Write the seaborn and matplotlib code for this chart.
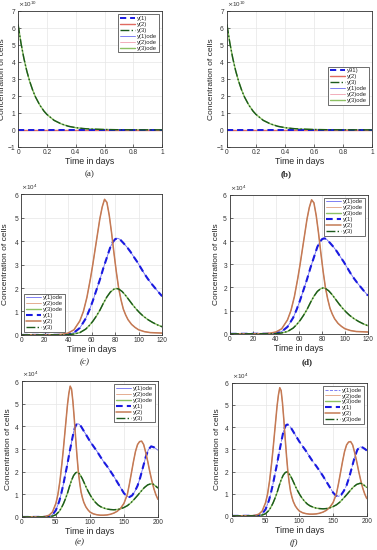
import matplotlib
matplotlib.use("Agg")
import matplotlib.pyplot as plt
from matplotlib.ticker import ScalarFormatter
import seaborn as sns
import pandas as pd

# ---- data ----
# panels (a)/(b): short run, values in units of 1e10
t_short = [0, 0.02, 0.04, 0.06, 0.08, 0.1, 0.12, 0.15, 0.18, 0.2, 0.25, 0.3,
           0.35, 0.4, 0.45, 0.5, 0.6, 0.7, 0.8, 0.9, 1.0]
y3_short = [6.2, 5.11, 4.22, 3.48, 2.87, 2.37, 1.95, 1.47, 1.1, 0.91, 0.56, 0.35,
            0.21, 0.13, 0.08, 0.05, 0.02, 0.008, 0.003, 0.001, 0.0]
y1_short = [0.0] * len(t_short)
y2_short = [0.0] * len(t_short)

# panels (c)/(d): 0-120 days, units of 1e4
t_mid_y1 = [0, 35, 40, 45, 50, 55, 58, 61, 64, 67, 70, 73, 76, 78, 80, 82, 84, 87,
            90, 93, 96, 99, 102, 105, 108, 111, 114, 117, 120]
y1_mid = [0, 0.005, 0.02, 0.1, 0.3, 0.7, 1.05, 1.45, 1.9, 2.35, 2.85, 3.3, 3.75,
          3.95, 4.08, 4.12, 4.08, 3.92, 3.75, 3.55, 3.32, 3.1, 2.85, 2.6, 2.38,
          2.18, 2.0, 1.82, 1.65]
t_mid_y2 = [0, 20, 30, 35, 40, 45, 50, 53, 56, 59, 61, 63, 65, 67, 69, 71, 73, 75,
            77, 79, 81, 83, 85, 87, 89, 91, 94, 97, 100, 105, 110, 120]
y2_mid = [0, 0.002, 0.01, 0.03, 0.08, 0.22, 0.6, 1.0, 1.6, 2.4, 3.0, 3.65, 4.3,
          4.95, 5.45, 5.78, 5.65, 5.1, 4.35, 3.5, 2.7, 2.0, 1.5, 1.1, 0.85, 0.65,
          0.45, 0.32, 0.22, 0.14, 0.1, 0.08]
t_mid_y3 = [0, 35, 40, 45, 50, 55, 58, 61, 64, 67, 70, 73, 76, 79, 81, 83, 86, 89,
            92, 95, 98, 101, 104, 108, 112, 116, 120]
y3_mid = [0, 0.003, 0.01, 0.04, 0.1, 0.25, 0.4, 0.58, 0.8, 1.05, 1.35, 1.62, 1.83,
          1.95, 1.98, 1.96, 1.85, 1.68, 1.48, 1.28, 1.1, 0.94, 0.8, 0.65, 0.53,
          0.43, 0.35]

# panels (e)/(f): 0-200 days, units of 1e4
t_long_y1 = [0, 35, 40, 45, 50, 55, 58, 61, 64, 67, 70, 73, 76, 78, 80, 82, 84, 87,
             90, 95, 100, 105, 110, 115, 120, 125, 130, 135, 140, 145, 150, 154,
             158, 162, 166, 170, 174, 178, 182, 186, 190, 194, 197, 200]
y1_long = [0, 0.005, 0.02, 0.1, 0.3, 0.7, 1.05, 1.45, 1.9, 2.35, 2.85, 3.3, 3.75,
           3.95, 4.08, 4.12, 4.1, 4.0, 3.85, 3.6, 3.35, 3.13, 2.92, 2.68, 2.45,
           2.25, 2.03, 1.8, 1.55, 1.3, 1.05, 0.92, 0.88, 0.95, 1.13, 1.38, 1.75,
           2.2, 2.65, 2.98, 3.12, 3.08, 3.02, 2.95]
t_long_y2 = [0, 30, 35, 40, 45, 50, 53, 56, 59, 61, 63, 65, 67, 69, 71, 73, 75, 77,
             79, 81, 83, 85, 87, 89, 91, 94, 97, 100, 105, 110, 115, 120, 125,
             130, 135, 140, 145, 150, 155, 158, 161, 164, 167, 170, 173, 176, 179,
             182, 185, 188, 191, 194, 197, 200]
y2_long = [0, 0.01, 0.03, 0.08, 0.22, 0.6, 1.0, 1.6, 2.4, 3.0, 3.65, 4.3, 4.95,
           5.45, 5.78, 5.65, 5.1, 4.35, 3.5, 2.7, 2.0, 1.5, 1.1, 0.85, 0.65, 0.45,
           0.32, 0.22, 0.14, 0.1, 0.08, 0.08, 0.09, 0.12, 0.17, 0.25, 0.38, 0.6,
           1.0, 1.45, 1.95, 2.45, 2.9, 3.2, 3.33, 3.35, 3.2, 2.85, 2.45, 2.0, 1.6,
           1.25, 0.98, 0.78]
t_long_y3 = [0, 35, 40, 45, 50, 55, 58, 61, 64, 67, 70, 73, 76, 79, 81, 83, 86, 89,
             92, 95, 98, 101, 104, 108, 112, 116, 120, 125, 130, 135, 140, 145,
             150, 155, 160, 165, 170, 175, 180, 185, 190, 193, 196, 200]
y3_long = [0, 0.003, 0.01, 0.04, 0.1, 0.25, 0.4, 0.58, 0.8, 1.05, 1.35, 1.62, 1.83,
           1.95, 1.98, 1.96, 1.85, 1.68, 1.48, 1.28, 1.1, 0.94, 0.8, 0.65, 0.53,
           0.45, 0.4, 0.35, 0.33, 0.32, 0.33, 0.36, 0.42, 0.5, 0.62, 0.78, 0.95,
           1.13, 1.3, 1.42, 1.47, 1.45, 1.38, 1.28]

# ---- style ----
sns.set_style("whitegrid", {
    "axes.edgecolor": "#333333", "grid.color": "#e6e6e6",
    "xtick.direction": "in", "ytick.direction": "in",
    "xtick.bottom": True, "ytick.left": True,
})
plt.rcParams["font.family"] = ["Liberation Sans", "DejaVu Sans"]
plt.rcParams["axes.linewidth"] = 0.6
plt.rcParams["xtick.major.size"] = 2
plt.rcParams["ytick.major.size"] = 2
plt.rcParams["xtick.major.width"] = 0.5
plt.rcParams["ytick.major.width"] = 0.5

BLUE = "#1a1ae0"
BROWN = "#c47a55"
DGREEN = "#1c5a1c"
ODE_BLUE = "#6a6af0"
ODE_BROWN = "#e0a080"
ODE_GREEN = "#8cc063"
DASH = (0, (3.2, 2.0))

fig = plt.figure(figsize=(3.77, 5.5), dpi=100)

boxes = {
    "a": [0.048, 0.733, 0.382, 0.247],
    "b": [0.602, 0.733, 0.385, 0.247],
    "c": [0.056, 0.391, 0.374, 0.256],
    "d": [0.610, 0.393, 0.366, 0.253],
    "e": [0.058, 0.060, 0.361, 0.247],
    "f": [0.615, 0.062, 0.358, 0.242],
}
ylab_x = {"a": -0.085, "b": -0.083, "c": -0.085, "d": -0.072, "e": -0.074, "f": -0.08}
captions = {"a": (90, 174, "(a)", "normal", "normal"),
            "b": (286, 174, "(b)", "bold", "normal"),
            "c": (85, 362, "(c)", "normal", "italic"),
            "d": (307, 362, "(d)", "bold", "normal"),
            "e": (80, 542, "(e)", "normal", "italic"),
            "f": (294, 543, "(f)", "normal", "italic")}


def line(ax, t, y, scale, **kw):
    df = pd.DataFrame({"t": t, "y": [v * scale for v in y]})
    sns.lineplot(data=df, x="t", y="y", ax=ax, **kw)


def finish(ax, xlim, xticks, ylim, yticks, leg_loc, order, labels, leg_anchor=None):
    ax.set_xlim(*xlim)
    ax.set_ylim(*ylim)
    ax.set_xticks(xticks)
    ax.set_yticks(yticks)
    fmt = ScalarFormatter(useMathText=True)
    fmt.set_powerlimits((0, 0))
    ax.yaxis.set_major_formatter(fmt)
    ax.xaxis.set_major_formatter(plt.FuncFormatter(lambda v, p: f"{v:g}"))
    ax.yaxis.get_offset_text().set_fontsize(4.5)
    ax.tick_params(labelsize=4.8, pad=1.5, colors="#333333")
    ax.set_xlabel("Time in days", fontsize=6.3, labelpad=1)
    ax.set_ylabel("Concentration of cells", fontsize=6.0)
    ax.grid(True, lw=0.5)
    for s in ax.spines.values():
        s.set_visible(True)
    handles = ax.get_legend_handles_labels()[0]
    kw = dict(fontsize=4.2, frameon=True, fancybox=False, edgecolor="#333333",
              framealpha=1, handlelength=2.6, handletextpad=0.4,
              borderpad=0.3, labelspacing=0.15, borderaxespad=0.5)
    if leg_anchor is not None:
        kw["bbox_to_anchor"] = leg_anchor
    leg = ax.legend([handles[i] for i in order], labels, loc=leg_loc, **kw)
    leg.get_frame().set_linewidth(0.5)


def draw_short(ax, labels, loc, anchor=None):
    s = 1e10
    line(ax, t_short, y1_short, s, color=ODE_BLUE, lw=0.6, label="y(1)ode")
    line(ax, t_short, y2_short, s, color="#f0a0b0", lw=0.6, label="y(2)ode")
    line(ax, t_short, y3_short, s, color=ODE_GREEN, lw=1.0, label="y(3)ode")
    line(ax, t_short, y2_short, s, color="#e06a60", lw=1.0, label="y(2)")
    line(ax, t_short, y1_short, s, color=BLUE, lw=1.4, linestyle=DASH, label="y(1)")
    line(ax, t_short, y3_short, s, color=DGREEN, lw=1.0, linestyle="-.", label="y(3)")
    finish(ax, (0, 1), [0, 0.2, 0.4, 0.6, 0.8, 1], (-1e10, 7e10),
           [v * 1e10 for v in range(-1, 8)], loc, [4, 3, 5, 0, 1, 2], labels, anchor)


def draw_cells(ax, t1, y1, t2, y2, t3, y3, xmax, xticks, labels, loc, anchor=None,
               ode1_style="-"):
    s = 1e4
    line(ax, t1, y1, s, color=ODE_BLUE, lw=0.6, linestyle=ode1_style, label="y(1)ode")
    line(ax, t2, y2, s, color=ODE_BROWN, lw=0.6, label="y(2)ode")
    line(ax, t3, y3, s, color=ODE_GREEN, lw=1.0, label="y(3)ode")
    line(ax, t1, y1, s, color=BLUE, lw=1.5, linestyle=DASH, label="y(1)")
    line(ax, t2, y2, s, color=BROWN, lw=1.1, label="y(2)")
    line(ax, t3, y3, s, color=DGREEN, lw=1.0, linestyle="-.", label="y(3)")
    finish(ax, (0, xmax), xticks, (0, 6e4), [v * 1e4 for v in range(0, 7)],
           loc, [0, 1, 2, 3, 4, 5], labels, anchor)


main_labels = ["y(1)", "y(2)", "y(3)", "y(1)ode", "y(2)ode", "y(3)ode"]
ode_first = ["y(1)ode", "y(2)ode", "y(3)ode", "y(1)", "y(2)", "y(3)"]

axs = {k: fig.add_axes(v) for k, v in boxes.items()}
draw_short(axs["a"], main_labels, "upper right")
draw_short(axs["b"], ["y91)", "y(2)", "y(3)", "y(1)ode", "y(2)ode", "y(3)ode"],
           "center right", (1.0, 0.45))
draw_cells(axs["c"], t_mid_y1, y1_mid, t_mid_y2, y2_mid, t_mid_y3, y3_mid, 120,
           [0, 20, 40, 60, 80, 100, 120], ode_first, "lower left")
draw_cells(axs["d"], t_mid_y1, y1_mid, t_mid_y2, y2_mid, t_mid_y3, y3_mid, 120,
           [0, 20, 40, 60, 80, 100, 120], ode_first, "upper right")
draw_cells(axs["e"], t_long_y1, y1_long, t_long_y2, y2_long, t_long_y3, y3_long, 200,
           [0, 50, 100, 150, 200], ode_first, "upper right")
draw_cells(axs["f"], t_long_y1, y1_long, t_long_y2, y2_long, t_long_y3, y3_long, 200,
           [0, 50, 100, 150, 200],
           ["y(1)ode", "y(2)ode", "y(3)ode", "y(1)", "y(2)", "y(3)ode"],
           "upper right", ode1_style="--")

for k, ax in axs.items():
    ax.yaxis.set_label_coords(ylab_x[k], 0.5)

for k, (x, y, txt, wt, st) in captions.items():
    fam = ["Liberation Serif", "DejaVu Serif"]
    fig.text(x / 377, 1 - y / 550, txt, ha="center", va="center", fontsize=6.5,
             fontweight=wt, fontstyle=st, family=fam)

fig.savefig("out.png", dpi=100)
